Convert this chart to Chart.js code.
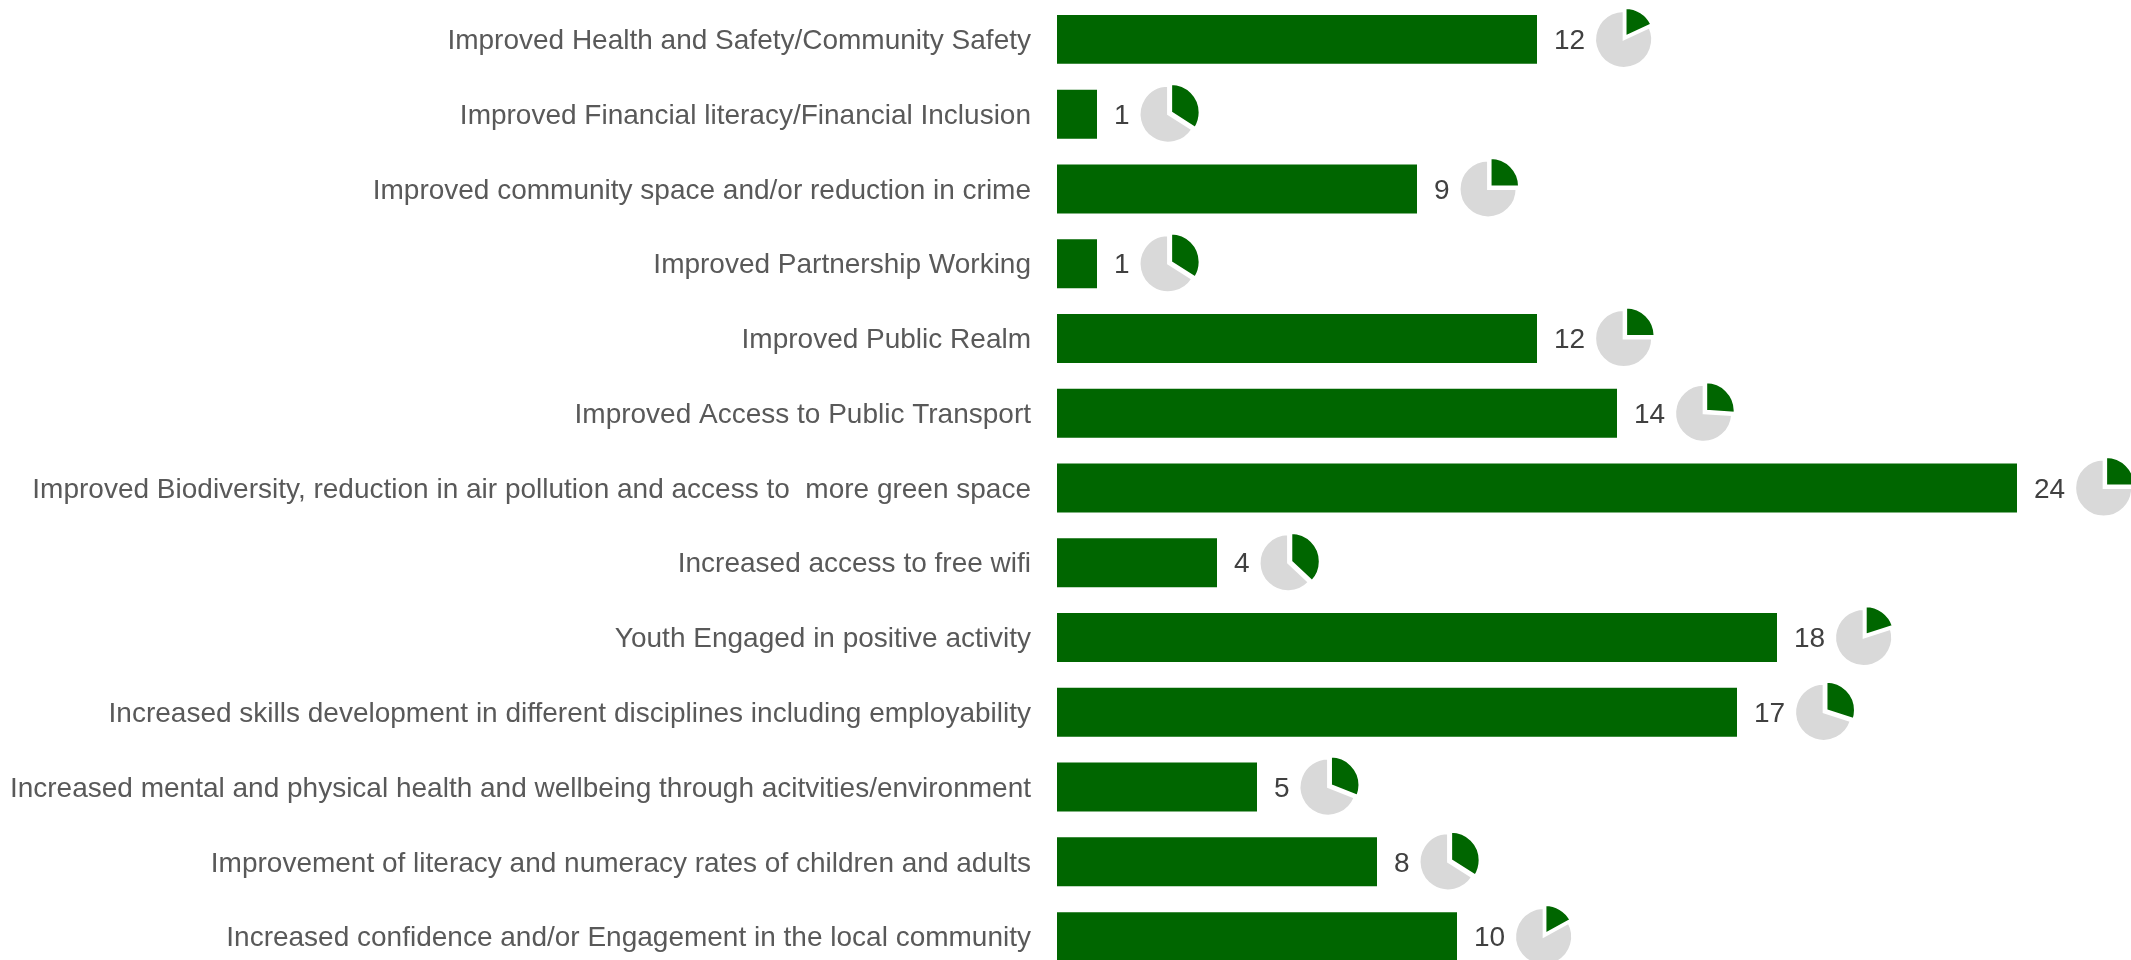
<!DOCTYPE html>
<html>
<head>
<meta charset="utf-8">
<script src="https://cdn.jsdelivr.net/npm/chart.js@4.4.1/dist/chart.umd.min.js"></script>
<style>
html,body{margin:0;padding:0;background:#fff;overflow:hidden;}
#wrap{position:relative;width:2131px;height:976px;}
</style>
</head>
<body>
<div id="wrap"><canvas id="c"></canvas></div>
<script>
const categories = [
  "Improved Health and Safety/Community Safety",
  "Improved Financial literacy/Financial Inclusion",
  "Improved community space and/or reduction in crime",
  "Improved Partnership Working",
  "Improved Public Realm",
  "Improved Access to Public Transport",
  "Improved Biodiversity, reduction in air pollution and access to  more green space",
  "Increased access to free wifi",
  "Youth Engaged in positive activity",
  "Increased skills development in different disciplines including employability",
  "Increased mental and physical health and wellbeing through acitvities/environment",
  "Improvement of literacy and numeracy rates of children and adults",
  "Increased confidence and/or Engagement in the local community"
];
const counts = [12, 1, 9, 1, 12, 14, 24, 4, 18, 17, 5, 8, 10];
// share shown in the small pie next to each bar (green slice)
const pieShares = [0.18, 0.34, 0.25, 0.34, 0.25, 0.26, 0.25, 0.37, 0.20, 0.30, 0.31, 0.34, 0.17];

const GREEN = '#006600';
const GREY = '#d9d9d9';

const piePlugin = {
  id: 'valuePies',
  afterDatasetsDraw(chart) {
    const ctx = chart.ctx;
    const meta = chart.getDatasetMeta(0);
    ctx.save();
    ctx.font = '28px "Liberation Sans", Arial, sans-serif';
    ctx.textBaseline = 'middle';
    ctx.textAlign = 'left';
    meta.data.forEach((bar, i) => {
      const txt = String(counts[i]);
      const tx = bar.x + 17;
      ctx.fillStyle = '#404040';
      ctx.fillText(txt, tx, bar.y + 2);
      const w = ctx.measureText(txt).width;
      const r = 28.5;
      const cx = tx + w + 10 + r;
      const cy = bar.y;
      const start = -Math.PI / 2;
      const mid = start + pieShares[i] * 2 * Math.PI;
      // grey remainder
      ctx.beginPath();
      ctx.moveTo(cx, cy);
      ctx.arc(cx, cy, r, mid, start + 2 * Math.PI);
      ctx.closePath();
      ctx.fillStyle = GREY;
      ctx.fill();
      ctx.lineWidth = 2;
      ctx.strokeStyle = '#ffffff';
      ctx.stroke();
      // green exploded slice
      const bis = (start + mid) / 2;
      const off = 3.5;
      const gx = cx + Math.cos(bis) * off;
      const gy = cy + Math.sin(bis) * off;
      ctx.beginPath();
      ctx.moveTo(gx, gy);
      ctx.arc(gx, gy, r, start, mid);
      ctx.closePath();
      ctx.fillStyle = GREEN;
      ctx.fill();
      ctx.stroke();
    });
    ctx.restore();
  }
};

new Chart(document.getElementById('c'), {
  type: 'bar',
  data: {
    labels: categories,
    datasets: [{
      data: counts,
      backgroundColor: GREEN,
      borderWidth: 0,
      barPercentage: 0.655,
      categoryPercentage: 1.0
    }]
  },
  options: {
    indexAxis: 'y',
    responsive: true,
    maintainAspectRatio: false,
    animation: false,
    layout: { padding: { top: 2, bottom: 2, left: 0, right: 0 } },
    plugins: { legend: { display: false }, tooltip: { enabled: false } },
    scales: {
      x: {
        display: false,
        min: 0,
        max: 26.85
      },
      y: {
        grid: { display: false, drawTicks: false },
        border: { display: false },
        ticks: {
          color: '#595959',
          padding: 26,
          labelOffset: 2,
          autoSkip: false,
          font: { family: '"Liberation Sans", Arial, sans-serif', size: 28 }
        },
        afterFit(scale) {
          scale.width = 1057;
          scale.paddingTop = 0;
          scale.paddingBottom = 0;
        }
      }
    }
  },
  plugins: [piePlugin]
});
</script>
</body>
</html>
